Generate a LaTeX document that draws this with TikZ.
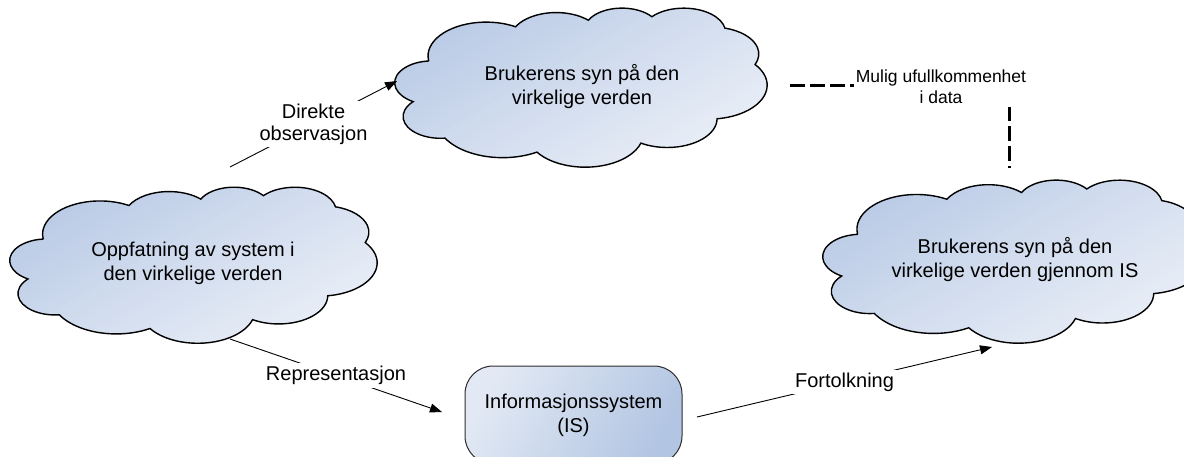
\documentclass[tikz,border=0pt]{standalone}
\usepackage{fontspec}
\setmainfont{Liberation Sans}
\usetikzlibrary{arrows.meta}

\definecolor{cloudDark}{RGB}{180,198,227}
\definecolor{cloudLight}{RGB}{240,244,250}
\definecolor{boxLight}{RGB}{226,233,244}
\definecolor{boxDark}{RGB}{178,197,226}
\definecolor{boxEdge}{RGB}{45,45,45}

\newcommand{\cw}{1}
\newcommand{\ch}{1}

\tikzset{
  % elliptical arc: radii in a 100 x 100 box (scaled by \cw, \ch),
  % start angle and clockwise sweep in degrees, as seen on the ellipse
  oarc/.style n args={4}{insert path={
    arc[x radius={(#1)*(\cw)*1pt}, y radius={(#2)*(\ch)*1pt},
        start angle={atan2((#1)*sin(-(#3)),(#2)*cos(-(#3)))},
        delta angle={-mod(atan2((#1)*sin(-(#3)),(#2)*cos(-(#3)))-atan2((#1)*sin(-(#3)-(#4)),(#2)*cos(-(#3)-(#4)))+720,360)}]}},
  cloudarcs/.style={insert path={
    [oarc={15.632}{21.273}{-190.4875}{123.7805}]
    [oarc={12.345}{16.822}{-144.1024}{89.9452}]
    [oarc={10.104}{13.762}{-145.8079}{99.7230}]
    [oarc={11.243}{15.266}{-130.9861}{117.2417}]
    [oarc={12.345}{16.836}{-78.7089}{109.0269}]
    [oarc={15.683}{21.343}{-46.2673}{130.2690}]
    [oarc={13.391}{18.211}{0.6250}{114.0333}]
    [oarc={15.630}{21.331}{22.4516}{115.1726}]
    [oarc={17.870}{24.405}{66.2426}{75.7110}]
    [oarc={10.093}{13.699}{-274.9421}{146.7356}]
    [oarc={10.058}{13.762}{-246.8285}{152.5189}]}},
  cloudline/.style={draw=black, line width=1.4pt},
  cloudtext/.style={align=center, font=\fontsize{20}{24}\selectfont, inner sep=0pt},
  isbox/.style={draw=boxEdge, line width=1pt, rounded corners=28pt,
    top color=boxLight, bottom color=boxDark, shading angle=60,
    minimum width=217pt, minimum height=98pt, align=center,
    font=\fontsize{20}{24}\selectfont},
  conn/.style={line width=0.9pt, -{Triangle[length=12pt, width=9pt]}},
  lbl/.style={fill=white, align=center, inner sep=3pt,
    font=\fontsize{20}{22}\selectfont},
  notelbl/.style={fill=white, align=center, inner xsep=2pt, inner ysep=4pt,
    font=\fontsize{17.5}{21}\selectfont},
  dashline/.style={line width=3pt, dash pattern=on 15pt off 5pt}
}

% cloud in a box: #1 left, #2 bottom, #3 width, #4 height
\newcommand{\drawcloud}[4]{%
  \begin{scope}
    \renewcommand{\cw}{#3/100}\renewcommand{\ch}{#4/100}%
    \begin{scope}
      \clip ({#1+9.0278*#3/100},{#2-66.7361*#4/100}) [cloudarcs] -- cycle;
      \pgfmathsetmacro{\ext}{0.80*#4+0.49*#3}%
      \pgfmathsetmacro{\stp}{\ext/60}%
      % diagonal gradient, dark at the upper left, in thin bands
      \begin{scope}[shift={({#1+#3/2},{#2-#4/2})}, rotate=30]
        \fill[cloudLight] (-400,-400) rectangle (400,400);
        \fill[cloudDark] (-400,-400) rectangle (400,{-\ext/2});
        \foreach \i in {0,...,59}{
          \pgfmathsetmacro{\pp}{100-100*\i/59}
          \fill[cloudDark!\pp!cloudLight]
            (-400,{-\ext/2+\i*\stp}) rectangle (400,{-\ext/2+(\i+1)*\stp+0.6});
        }
      \end{scope}
    \end{scope}
    \path[cloudline] ({#1+9.0278*#3/100},{#2-66.7361*#4/100}) [cloudarcs] -- cycle;
  \end{scope}}

\begin{document}
\begin{tikzpicture}[x=1pt, y=-1pt]
  \useasboundingbox (0,0) rectangle (1184,456);
  \clip (0,0) rectangle (1184,456);

  % clouds
  \drawcloud{395}{166.6}{372}{159}
  \drawcloud{10}{342.7}{367}{156}
  \drawcloud{823}{342.6}{382}{163}

  \node[cloudtext] (syn) at (582,86.3) {Brukerens syn på den\\virkelige verden};
  \node[cloudtext] (oppf) at (193,263.3) {Oppfatning av system i\\den virkelige verden};
  \node[cloudtext] (synis) at (1015,259.6) {Brukerens syn på den\\virkelige verden gjennom IS};

  % information system
  \node[isbox] (is) at (573.5,415) {Informasjonssystem\\(IS)};

  % connectors
  \coordinate (dA) at (230,167);
  \coordinate (dB) at (397,81);
  \draw[conn] (dA) -- node[lbl] (dlbl) {Direkte\\observasjon} (dB);

  \coordinate (rA) at (230,339);
  \coordinate (rB) at (442,412);
  \draw[conn] (rA) -- node[lbl] (rlbl) {Representasjon} (rB);

  \coordinate (fA) at (697,417);
  \coordinate (fB) at (992,347);
  \draw[conn] (fA) -- node[lbl] (flbl) {Fortolkning} (fB);

  % possible imperfection in data
  \coordinate (mA) at (790,85);
  \coordinate (mB) at (1009,168);
  \draw[dashline] (mA) -| (mB);
  \node[notelbl] (mul) at (941,86.5) {Mulig ufullkommenhet\\i data};
\end{tikzpicture}
\end{document}
